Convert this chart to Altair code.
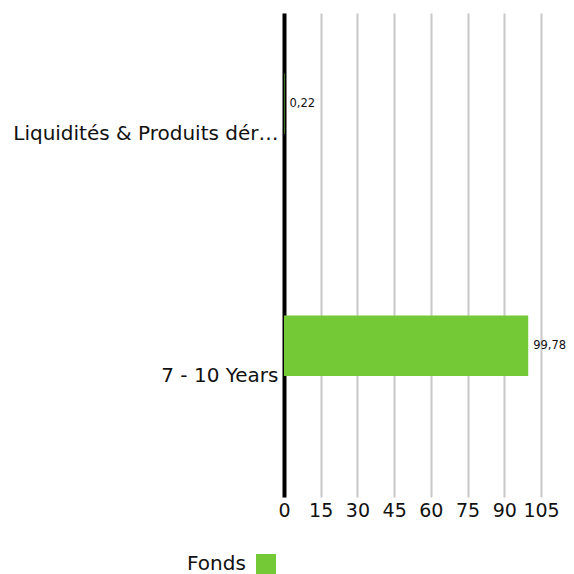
import altair as alt
import pandas as pd

categories = ["Liquidités & Produits dérivés", "7 - 10 Years"]
values = [0.22, 99.78]
series = ["Fonds", "Fonds"]
x_ticks = [0, 15, 30, 45, 60, 75, 90, 105]

df = pd.DataFrame({
    "cat": categories,
    "val": values,
    "serie": series,
    "lbl": [f"{v:.2f}".replace(".", ",") for v in values],
})

FONT = "DejaVu Sans"
GREEN = "#74c936"
INK = "#111111"

y = alt.Y("cat:N", sort=categories, title=None,
          scale=alt.Scale(paddingInner=0.5, paddingOuter=0.25),
          axis=alt.Axis(domainColor="#000000", domainWidth=4, ticks=False,
                        labelFontSize=20, labelColor=INK, labelFont=FONT,
                        labelLimit=266, labelPadding=6, grid=False))
yoff = alt.YOffset("serie:N", scale=alt.Scale(domain=["Fonds", "Indice"]))
x = alt.X("val:Q", title=None,
          scale=alt.Scale(domain=[0, 105], nice=False),
          axis=alt.Axis(values=x_ticks, domain=False, ticks=False, grid=True,
                        gridColor="#c8c8c8", gridWidth=2, labelFontSize=19,
                        labelFont=FONT, labelColor=INK, labelPadding=4,
                        labelFlush=False))

bars = alt.Chart(df).mark_bar(color=GREEN).encode(
    y=y, yOffset=yoff, x=x,
    color=alt.Color("serie:N", scale=alt.Scale(domain=["Fonds"], range=[GREEN]),
                    legend=alt.Legend(title="Fonds", titleOrient="left", orient="none",
                                      legendX=-97, legendY=541,
                                      titleFontSize=20, titleFont=FONT,
                                      titleFontWeight="normal", titleColor=INK,
                                      titlePadding=10, titleBaseline="middle",
                                      symbolType="square", symbolSize=400,
                                      symbolStrokeWidth=0, labelFontSize=0,
                                      labelOffset=0, labelExpr="''")),
)
text = alt.Chart(df).mark_text(align="left", baseline="middle", dx=5, fontSize=11.5,
                                font=FONT, color=INK).encode(
    y=y, yOffset=yoff, x=x, text="lbl:N")

chart = (bars + text).properties(
    width=257, height=484,
    autosize=alt.AutoSizeParams(type="none"),
    padding={"left": 276, "top": 5, "right": 25, "bottom": 77},
).configure_view(stroke=None)

chart.save("out.html", embed_options={"renderer": "svg", "actions": False})
